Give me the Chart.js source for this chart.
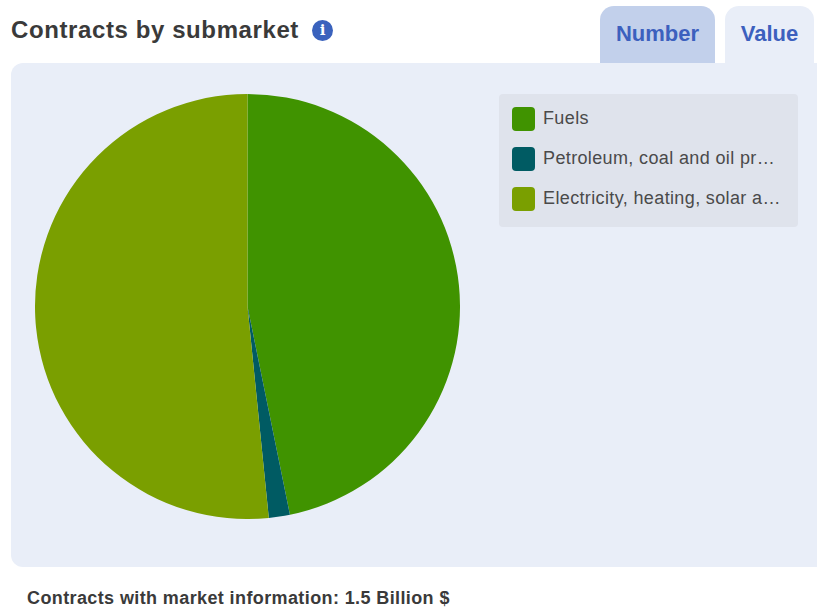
<!DOCTYPE html>
<html>
<head>
<meta charset="utf-8">
<title>Contracts by submarket</title>
<script src="https://cdn.jsdelivr.net/npm/chart.js@4"></script>
<style>
  html, body { margin: 0; padding: 0; background: #fff; overflow: hidden; }
  body { width: 817px; height: 610px; position: relative; font-family: "Liberation Sans", Arial, sans-serif; }
  h2 { position: absolute; left: 11px; top: 16px; margin: 0; font-size: 24px; line-height: 28px; font-weight: bold; color: #3a3a3a; letter-spacing: 0.6px; white-space: nowrap; }
  .info { position: absolute; left: 312px; top: 20px; width: 21px; height: 21px; border-radius: 50%; background: #3a62bd; color: #fff; font: bold 15px/21px "DejaVu Serif", serif; text-align: center; }
  .tab { position: absolute; top: 6px; height: 57px; border-radius: 14px 14px 0 0; color: #3c60be; font-size: 22px; font-weight: bold; line-height: 55px; text-align: center; }
  #tabNumber { left: 600px; width: 115px; background: #c2d0eb; }
  #tabValue { left: 725px; width: 89px; background: #e9eef8; }
  #panel { position: absolute; left: 11px; top: 63px; width: 830px; height: 504px; border-radius: 12px; background: #e9eef8; }
  #pieChart { position: absolute; left: 35px; top: 94px; }
  #legend { position: absolute; left: 499px; top: 94px; width: 299px; height: 133px; border-radius: 4px; background: #dfe3ec; }
  .item { position: absolute; left: 13px; height: 24px; white-space: nowrap; color: #4a4a4a; font-size: 18px; line-height: 24px; letter-spacing: 0.37px; }
  .swatch { position: absolute; left: 0; top: 0; width: 23px; height: 24px; border-radius: 4px; }
  .name { position: absolute; left: 31px; top: -1px; }
  #footer { position: absolute; left: 27px; top: 587px; font-size: 18px; line-height: 22px; font-weight: bold; color: #3a3a3a; letter-spacing: 0.39px; white-space: nowrap; }
</style>
</head>
<body>
<h2>Contracts by submarket</h2>
<div class="info">i</div>
<div class="tab" id="tabNumber">Number</div>
<div class="tab" id="tabValue">Value</div>
<div id="panel"></div>
<canvas id="pieChart" width="425" height="425"></canvas>
<div id="legend"></div>
<div id="footer">Contracts with market information: 1.5 Billion $</div>

<script>
const labels = ["Fuels", "Petroleum, coal and oil pr…", "Electricity, heating, solar a…"];
const shares = [46.8, 1.6, 51.6];
const colors = ["#409300", "#005b63", "#7a9f00"];

const ctx = document.getElementById('pieChart').getContext('2d');
const pieChart = new Chart(ctx, {
  type: 'pie',
  data: {
    labels: labels,
    datasets: [{
      data: shares,
      backgroundColor: colors,
      borderWidth: 0,
      hoverOffset: 0
    }]
  },
  options: {
    responsive: false,
    animation: false,
    plugins: {
      legend: { display: false },
      tooltip: { enabled: false }
    }
  }
});

// Legend rows sit in their own box beside the pie
const legendBox = document.getElementById('legend');
const rowTops = [13, 53, 92.5];
labels.forEach((label, i) => {
  const row = document.createElement('div');
  row.className = 'item';
  row.style.top = rowTops[i] + 'px';
  row.innerHTML = '<span class="swatch" style="background:' + colors[i] + '"></span><span class="name"></span>';
  row.querySelector('.name').textContent = label;
  legendBox.appendChild(row);
});
</script>
</body>
</html>
